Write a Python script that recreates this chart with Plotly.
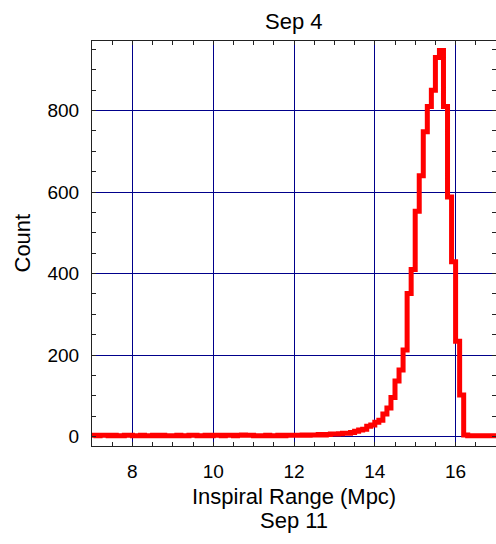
import plotly.graph_objects as go

# Histogram of inspiral range, bins of 0.1 Mpc from 7 to 17
bin_start = 7.0
bin_width = 0.1
counts = [
    3, 2, 3, 3, 2, 3, 2, 2, 3, 3,        # 7.0 - 8.0
    2, 2, 3, 2, 2, 3, 2, 3, 2, 2,        # 8.0 - 9.0
    2, 3, 2, 2, 3, 3, 2, 2, 3, 2,        # 9.0 - 10.0
    3, 3, 2, 3, 3, 2, 3, 4, 3, 3,        # 10.0 - 11.0
    2, 2, 2, 3, 2, 2, 3, 2, 3, 3,        # 11.0 - 12.0
    3, 3, 4, 3, 4, 4, 5, 4, 5, 6,        # 12.0 - 13.0
    6, 7, 8, 8, 10, 13, 16, 18, 25, 28,  # 13.0 - 14.0
    35, 40, 55, 70, 96, 136, 163, 212, 351, 410,   # 14.0 - 15.0
    553, 640, 748, 810, 850, 930, 947, 810, 588, 429,  # 15.0 - 16.0
    234, 102, 4, 2, 2, 2, 2, 2, 2, 2,    # 16.0 - 17.0
]
x_ticks = [8, 10, 12, 14, 16]
y_ticks = [0, 200, 400, 600, 800]
title_top = "Sep 4"
title_bottom = "Sep 11"
x_label = "Inspiral Range (Mpc)"
y_label = "Count"

edges = [round(bin_start + i * bin_width, 4) for i in range(len(counts) + 1)]
y_step = counts + [counts[-1]]

FONT = "Liberation Sans, Arial, Helvetica, sans-serif"
GRID = "#00008B"
TICKFONT = 19
LABELFONT = 22

fig = go.Figure()
fig.add_trace(go.Scatter(
    x=edges, y=y_step, mode="lines",
    line=dict(shape="hv", color="#FF0000", width=5),
    hoverinfo="skip", showlegend=False,
))

plot_h = 544 - 41 - 98
plot_w = 496 - 92

fig.update_layout(
    width=496, height=544,
    margin=dict(l=92, r=0, t=41, b=98, pad=0),
    paper_bgcolor="white", plot_bgcolor="white",
    font=dict(family=FONT, size=LABELFONT, color="black"),
    showlegend=False,
    xaxis=dict(
        range=[7, 17.0], tickvals=x_ticks, ticktext=[str(v) for v in x_ticks],
        showgrid=True, gridcolor=GRID, gridwidth=1, zeroline=False,
        showline=True, linecolor="#222", linewidth=1, mirror="ticks",
        ticks="inside", ticklen=4, tickcolor="#222", ticklabelstandoff=8,
        tickfont=dict(size=TICKFONT),
        minor=dict(dtick=0.5, tick0=7, ticks="inside", ticklen=4, tickcolor="#222", showgrid=False),
    ),
    yaxis=dict(
        range=[-23.3, 970.6], tickvals=y_ticks, ticktext=[str(v) for v in y_ticks],
        showgrid=True, gridcolor=GRID, gridwidth=1, zeroline=False,
        showline=True, linecolor="#222", linewidth=1, mirror="ticks",
        ticks="inside", ticklen=4, tickcolor="#222", ticklabelstandoff=8,
        tickfont=dict(size=TICKFONT),
        minor=dict(dtick=50, tick0=0, ticks="inside", ticklen=4, tickcolor="#222", showgrid=False),
    ),
    annotations=[
        dict(text=title_top, xref="paper", yref="paper", x=0.5, y=1 + 20 / plot_h,
             xanchor="center", yanchor="middle", showarrow=False, font=dict(size=LABELFONT)),
        dict(text=x_label, xref="paper", yref="paper", x=0.5, y=-50 / plot_h,
             xanchor="center", yanchor="middle", showarrow=False, font=dict(size=LABELFONT)),
        dict(text=title_bottom, xref="paper", yref="paper", x=0.5, y=-74 / plot_h,
             xanchor="center", yanchor="middle", showarrow=False, font=dict(size=LABELFONT)),
        dict(text=y_label, xref="paper", yref="paper", x=-70 / plot_w, y=0.5,
             xanchor="center", yanchor="middle", textangle=-90, showarrow=False,
             font=dict(size=LABELFONT)),
    ],
)

fig.write_html("out.html", config={"displayModeBar": False},
               post_script="document.body.style.margin='0';")
